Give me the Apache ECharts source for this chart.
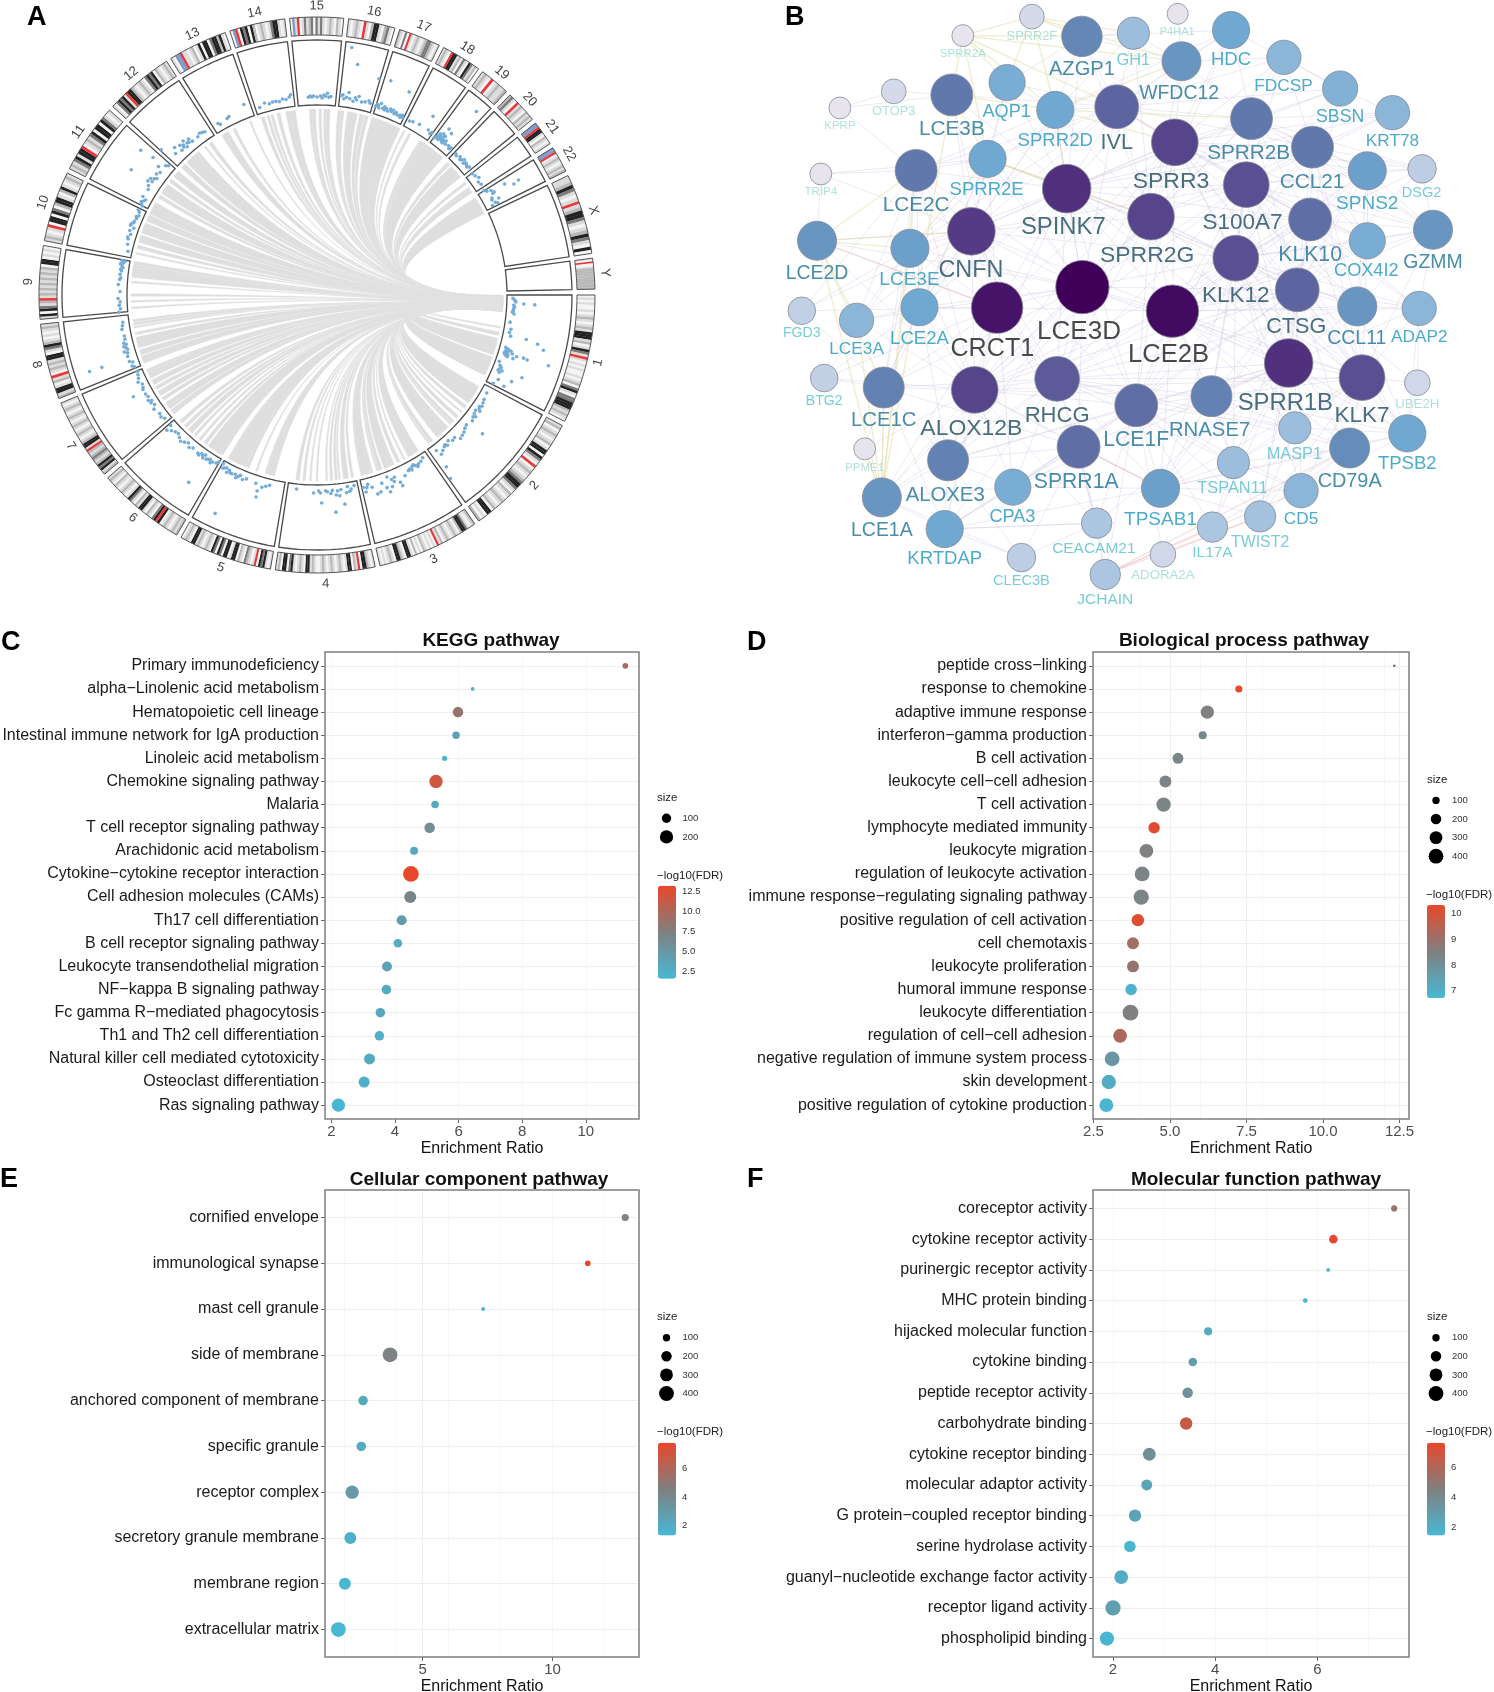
<!DOCTYPE html>
<html><head><meta charset="utf-8">
<style>html,body{margin:0;padding:0;background:#fff}#chart{width:1494px;height:1692px}</style>
<script src="https://cdn.jsdelivr.net/npm/echarts@6/dist/echarts.min.js"></script>
</head><body><div id="chart"></div>
<script>
/* ---------- Panel A: chromosomes ---------- */
const chromNames = ['1','2','3','4','5','6','7','8','9','10','11','12','13','14','15','16','17','18','19','20','21','22','X','Y'];
const chromLengths = [249,243,198,191,181,171,159,146,141,136,135,134,115,107,103,90,81,78,59,63,48,51,155,59];
const chromBands = [
 '0101001012101214441201431r10101001012034103344421210',
 '120121012014404310r01210123443102101210120440102',
 '2101344201210121021r0101012010201440124401210101',
 '1012440r120441012101210121001214401210143044021',
 '1014340r101230120441044034034012101214401210',
 '2121012104r430120144120134101210120121',
 '214342123212r14421012101210121012101',
 '21441021r01212144013421010121',
 '1404312r12121212121204401010',
 '12101r0440430244102410121',
 '12134144r012134044043101',
 '1034341r44210121034340210121',
 '10bbr1101201404403442410',
 '0br0434042012101344101',
 '0b1r0131230313101210210',
 '101210r10244102310',
 '21030r10121012332101',
 '1210r4412031043120',
 '1210r012112',
 '2310r12102121',
 'bbr44102101',
 'bbr012101212',
 '11243101r124431012431040',
 '10r0012222222222222'
];
const linkSources = [4.8,4.6,4.3,4.1,3.8,3.6,3.4,3.2,3,2.8,2.6,2.4,2.2,2,1.8,1.6,1.4,1.2,1,0.8,0.6,0.4];
const linkTargets = [
 [[10,1],[12,2],[14,2],[15,3],[16,3],[17,4],[18,3],[20,2],[21,3],[22,4],[23,4],[24,3],[25,2]],
 [[30,2],[31,2],[32,3],[33,3],[34,4],[35,2],[37,2],[39,1],[41,2],[43,2],[44,1],[46,3],[47,4],[48,5],[49,3],[52,2],[53,1]],
 [[58,4],[59,4],[60,2],[62,1],[64,2],[66,2],[67,3],[68,3],[70,2],[71,1],[73,2],[74,3],[75,3],[76,1]],
 [[79,1.5],[81,3],[83,1],[84,1.5],[85.5,1.5],[87,1],[90,1],[92,1],[94,1.5],[96,2]],
 [[104,3],[105,3],[106,1],[109,1],[112,2],[114,5],[115,5],[116,4],[117,2],[118,2]],
 [[121,2],[122,2],[123,6],[124,6],[125,3],[127,2],[129,1.5],[131,1.5],[133,3],[135,2],[137,2]],
 [[141,3],[143,3],[144,2],[146,2],[148,3],[150,2],[152,3],[154,2],[155,2],[156,1.5]],
 [[159,2],[160,3],[162,3],[164,2],[165,4],[166,3],[168,1.5],[170,1],[171,1.5],[172,1.5]],
 [[176,1],[178,1],[180,1.5],[184,1],[186,2],[187,2.5],[188,2],[189,1.5],[190,2]],
 [[193,1],[195,2],[197,2],[198,3],[200,2],[201,3],[202,3],[204,2],[205,2]],
 [[207,4],[208,4],[209,3],[212,2],[214,3],[215,3],[216,2],[218,2],[220,1.5],[221,3]],
 [[224,3],[226,2],[227,4],[228,4],[229,3],[230,2],[233,1],[235,2]],
 [[240,3],[241,2],[243.5,1.5],[249,1]],
 [[253,2],[254.7,1.5],[256,1.5],[258,2],[261,2.5],[262.5,3]],
 [[268,1.5],[269,2],[271,1.5],[272.5,1.5],[273.5,2]],
 [[277,2],[278,1.5],[280,2],[281,3],[282,2],[284,2.5],[285.5,2]],
 [[288,3],[289,3],[290,2.5],[291,3],[292,2],[293,2],[294,2.5],[295,3],[296,2]],
 [[298,1],[300,1.5],[304,1.5],[305,2]],
 [[307,5],[308,5],[309,6],[310,4],[311,3],[312,2]],
 [[315,2],[317,3],[318,3],[319,2.5],[320,2]],
 [[323,1.5],[325,1.5],[326,2]],
 [[329,2],[330,3],[331,4],[332,5],[333,4]]
];
const variantPoints = [
 [1,196],[1.5,198],[2,199],[2.5,207],[2.6,218],[3,197],[3.5,198],[4,197],[4.5,197],[5,196],[5.5,198],[8,195],[10,197],[11,196],[12,198],[12,214],[12.6,226],[13.7,233],[15.5,196],[15.8,199],[16,197],[16.2,202],[16.4,199],[16.6,197],[16.8,204],[17,199],[17.1,196],[17.2,209],[17.4,200],[17.5,197],[17.7,198],[18,200],[18,206],[17,216],[17.2,220],[17,242],[20,194],[21,196],[21.5,198],[22,197],[22.3,200],[22.5,196],[23,198],[24,213],[22,221],[25,200],[26.6,197],[26,208],
 [30,196],[32,197],[33,198],[34,199],[34.5,197],[35,198],[35.5,200],[36,196],[37,197],[37.5,200],[38,198],[39,200],[40,216],[41,198],[42,199],[43,201],[44,202],[45,203],[46,198],[47,199],[48,196],[49,199],[49.5,197],[50,198],[51,200],[52,202],[52.5,196],[53,215],[54,227],
 [57,194],[58,196],[59,197],[59.5,199],[60,197],[60.5,195],[61,196],[61.5,199],[62,197],[62.5,198],[64,201],[65.8,209],[66,205],[67,198],[67.5,202],[68,199],[68.5,206],[69,195],[69.5,210],[70,205],[71,199],[72,207],[73,208],[74,200],[75,196],[75.5,199],[76,203],[76.5,198],
 [79,194],[80,197],[81,194],[81.5,200],[82.4,211],[83,196],[84,197],[84.5,201],[85,218],[85.5,196],[86,199],[87,197],[87.5,196],[88.7,208],[89,198],[89.5,196],[91,198],[96,195],[80.5,199],[83.5,202],
 [104,196],[105,198],[106,200],[106.8,211],[107,205],[108,198],[111,197],[112,199],[113,196],[113.5,198],[114,200],[114.5,197],[115,241],[115.5,198],[116,198],[116.5,196],[117,199],[117.5,195],[118,196],[118.5,197],[119,193],
 [120.5,194],[121,196],[122,197],[122.5,199],[123,196],[123.5,197],[124,198],[124.4,227],[124.8,195],[125,199],[125.5,197],[126,196],[126.5,199],[127,198],[129,197],[130,199],[131,196],[132,198],[133,200],[134,198],[135,196],[136,197],[137,199],[138,202],[138.3,196],
 [141,196],[142,198],[143,197],[145,199],[146,196],[147,198],[147.5,196],[148,199],[149,197],[150,198],[151,210],[151.5,198],[152,197],[153,196],[154,199],[155,197],[156,196],[157,195],
 [158.5,196],[159,198],[160,196],[160.5,199],[161.4,240],[161.4,227],[162,199],[163,198],[163.5,201],[164,197],[164.5,198],[165,200],[165.5,197],[166,199],[167,197],[168,197],[170,198],[171,197],[172,196],
 [175,199],[176,197],[177,198],[178,197],[179,199],[181,197],[183,199],[184.5,198],[185,197],[186,198],[187,197],[187.5,198],[188,196],[188.5,197],[189,199],[189.5,196],[190,198],[190,195],
 [193,194],[195,196],[196.5,197],[197,198],[198,196],[199,198],[200,195],[200.5,199],[201,199],[201.5,197],[202,197],[203,196],[203.5,197],[204,195],[205,196],[205.5,198],
 [207,196],[207.5,198],[208,199],[208.5,197],[209,196],[209.5,200],[212,199],[213,201],[214,204],[214,224],[214.5,200],[215,203],[215.5,200],[216,198],[218,199],[219.4,228],[220,214],[220.5,199],[221,197],[219,204],[217,201],
 [223,213],[225,200],[226,205],[227,198],[227.5,203],[228,199],[228.3,201],[228.8,197],[229,204],[229.5,200],[230,199],[230.5,202],[231,198],[233,198],[234,200],[234.8,199],[235.5,198],
 [240,198],[240.5,196],[243,198],[243.7,199],[249,204],
 [253,196],[254.7,199],[256,197],[257,198],[258,198],[259,197],[260,199],[261,198],[262,200],[262.5,202],
 [267.5,198],[268,199],[268.5,198],[269,199],[270,198],[271,199],[271.5,197],[272,200],[272.5,199],[273,202],[273.5,198],[274,199],
 [277,201],[277.4,202],[277.8,198],[278,250],[278.5,200],[279,205],[279.5,199],[280,234],[280.5,197],[281,201],[281.5,199],[282,203],[283,198],[284,199],[285,201],[285.5,199],
 [287.3,198],[287.6,200],[288,199],[288.3,197],[288.6,202],[289,226.6],[289.4,198],[289.8,200],[290,197],[290.5,199],[291,197],[291.6,200],[292,198],[292.5,200],[293,197],[293.5,199],[294,197],[294.4,223],[294.8,198],[295,196],[295.4,199],[295.8,197],[286,225],
 [298,197],[299,198],[301,199],[303,213],[304,199],[305,197],[305.3,199],
 [306.7,196],[307,198],[307.2,200],[307.4,203],[307.6,199],[307.8,197],[308,201],[308.2,205],[308.4,199],[308.6,202],[308.8,198],[309,204],[309.2,200],[309.4,197],[309.6,199],[310,201],[310.4,198],[311,243],[311.4,199],[312,197],[312.4,199],[309.8,210],[308.5,212],
 [314.5,198],[315,197],[316,199],[316.5,197],[317,198],[317.5,200],[318,197],[318.5,199],[319,198],[319.5,197],[320,199],
 [322,197],[323,198],[324,200],[325,197],[326,198],
 [328,197],[328.6,199],[329,203],[329.4,218],[329.8,205],[330,203],[330.3,232],[330.6,226],[331,200],[331.5,199],[331.9,206],[332.5,201],[333,197],[333,203]
];

/* ---------- Panel B: network ---------- */
const nodeNames = ['SPRR2F','SPRR2A','P4HA1','AZGP1','GH1','HDC','WFDC12','FDCSP','AQP1','OTOP3','KPRP','LCE3B','SPRR2D','IVL','SBSN','KRT78','SPRR2B','SPRR3','CCL21','SPNS2','DSG2','TRIP4','SPRR2E','LCE2C','SPINK7','S100A7','KLK10','SPRR2G','CNFN','COX4I2','GZMM','LCE2D','LCE3E','KLK12','LCE3D','LCE2B','CRCT1','CTSG','CCL11','ADAP2','LCE2A','LCE3A','FGD3','SPRR1B','KLK7','BTG2','LCE1C','ALOX12B','RHCG','LCE1F','RNASE7','UBE2H','MASP1','TPSB2','CD79A','ALOXE3','SPRR1A','PPME1','TSPAN11','TPSAB1','CPA3','CD5','LCE1A','TWIST2','IL17A','CEACAM21','KRTDAP','CLEC3B','ADORA2A','JCHAIN'];
const nodeX = [598,453,904,703,811,1016,912,1127,546,308,195,430,647,776,1245,1355,1059,898,1187,1302,1417,155,505,355,671,1048,1182,848,471,1302,1440,147,342,1026,704,893,525,1155,1281,1411,362,230,115,1137,1291,162,287,478,651,817,975,1407,1150,1386,1265,422,696,247,1021,868,558,1163,283,1077,977,734,415,576,873,752];
const nodeY = [42,90,35,92,84,76,155,145,209,231,273,240,278,270,224,285,300,360,372,432,427,440,402,431,477,467,555,548,585,609,581,609,628,653,726,787,778,733,775,780,777,810,786,918,955,956,980,986,958,1025,1002,968,1082,1096,1133,1164,1130,1135,1170,1235,1232,1241,1258,1306,1333,1323,1338,1410,1402,1453];
const nodeDegree = [52,46,44,85,68,78,82,72,76,52,46,88,78,92,74,72,88,98,88,80,60,46,78,88,102,96,90,98,100,76,82,82,80,96,112,110,108,92,82,72,78,72,58,102,96,58,86,98,94,90,86,54,68,78,84,86,90,46,68,80,76,72,82,66,64,64,78,60,54,64];
const labelX = [598,453,903,703,811,1016,907,1126,545,308,195,430,647,776,1245,1355,1053,890,1186,1302,1416,155,503,355,664,1040,1182,840,470,1300,1440,147,341,1026,697,885,515,1153,1280,1411,362,230,115,1130,1291,162,287,471,651,817,971,1407,1149,1386,1265,416,691,247,1019,868,557,1163,283,1077,977,728,415,576,873,752];
const labelY = [93,137,80,175,152,152,238,218,283,282,318,327,356,362,295,356,388,460,460,515,487,484,479,520,576,563,645,647,685,686,663,691,708,748,839,898,884,826,857,852,856,884,843,1020,1052,1014,1064,1084,1052,1112,1088,1023,1150,1172,1218,1252,1220,1183,1236,1314,1307,1313,1341,1372,1398,1389,1414,1470,1454,1517];
const purpleEdges = {
 LCE3D:'LCE2B CRCT1 CNFN SPRR2G SPINK7 KLK12 SPRR3 S100A7 CTSG KLK7 SPRR1B ALOX12B RHCG LCE1F LCE2A LCE3E LCE2C LCE3B IVL SPRR2D SPRR2E SPRR2B LCE1C LCE1A LCE2D LCE3A ALOXE3 SPRR1A',
 LCE2B:'CRCT1 CNFN SPRR2G SPINK7 KLK12 SPRR3 S100A7 CTSG KLK7 SPRR1B ALOX12B RHCG KLK10 CCL21 CCL11 RNASE7 LCE1F GZMM SPNS2 TPSB2 CD79A TPSAB1 TSPAN11 MASP1 ADAP2 COX4I2',
 CRCT1:'CNFN SPINK7 SPRR3 LCE2A LCE3E LCE2D LCE1C LCE1A ALOX12B ALOXE3 RHCG SPRR1A SPRR2E LCE2C LCE3B FGD3 BTG2 KRTDAP CPA3',
 SPINK7:'SPRR3 SPRR2G S100A7 KLK10 KLK12 CTSG IVL WFDC12 AZGP1 AQP1 SPRR2D SPRR2B CCL21 SBSN KRT78 KLK7 SPRR1B RHCG ALOX12B LCE2C LCE3B LCE3E LCE2A SPRR2E LCE1F CCL11',
 SPRR3:'SPRR2B S100A7 IVL WFDC12 FDCSP HDC CCL21 KLK10 SPNS2 KRT78 SPRR2G KLK12 DSG2 CTSG KLK7 SPRR1B RHCG ALOX12B CCL11 LCE1F GZMM COX4I2',
 S100A7:'KLK10 KLK12 CTSG CCL21 SPNS2 COX4I2 GZMM SBSN CCL11 SPRR1B KLK7 ADAP2 RHCG ALOX12B LCE1F RNASE7 TPSB2 KRT78 DSG2 FDCSP',
 KLK12:'KLK10 CTSG CCL11 KLK7 SPRR1B GZMM COX4I2 ADAP2 RNASE7 MASP1 TPSB2 CD79A LCE1F SPRR2B CCL21 SPNS2 DSG2 TSPAN11 TPSAB1 CD5',
 CTSG:'KLK10 KLK7 SPRR1B CCL11 CCL21 TPSB2 TPSAB1 CPA3 CD79A ADAP2 UBE2H GZMM RNASE7 MASP1 CD5 SPRR2B COX4I2 SPNS2 SBSN KRT78 DSG2 TSPAN11 TWIST2 LCE1F',
 KLK7:'SPRR1B ADAP2 CCL11 TPSB2 CD79A MASP1 UBE2H RNASE7 TSPAN11 TWIST2 CCL21 KLK10 COX4I2 GZMM TPSAB1 CD5',
 SPRR1B:'RNASE7 LCE1F RHCG CD79A TSPAN11 TPSAB1 SPRR1A MASP1 TWIST2 KLK10 CCL11 ADAP2 TPSB2 CPA3 ALOXE3 CEACAM21 IL17A',
 ALOX12B:'RHCG ALOXE3 SPRR1A LCE1C LCE1A LCE1F CPA3 KRTDAP LCE3A BTG2 PPME1 KLK12 CTSG KLK7 LCE2A LCE3E LCE2C LCE2D TPSAB1 RNASE7 CEACAM21',
 RHCG:'LCE1F SPRR1A RNASE7 ALOXE3 TPSAB1 CPA3 CEACAM21 KLK12 CTSG KLK7 CCL11 MASP1 TSPAN11 CD79A LCE1C LCE1A KRTDAP',
 LCE1F:'SPRR1A RNASE7 TPSAB1 CEACAM21 TSPAN11 JCHAIN KLK10 MASP1 CD5 TWIST2 CPA3 ALOXE3 KRTDAP IL17A ADORA2A',
 CNFN:'LCE2C LCE2D LCE3E LCE2A LCE3B SPRR2E SPRR2D AQP1 TRIP4 LCE3A FGD3 SPINK7 SPRR3 SPRR2G ALOX12B LCE1C RHCG S100A7 KLK12 SPRR1A IVL LCE1F',
 SPRR2G:'SPRR2B SPRR2D SPRR2E IVL CCL21 KLK10 AZGP1 GH1 S100A7 KLK12 CTSG RHCG ALOX12B SPRR1B WFDC12 FDCSP HDC LCE1F KLK7 ALOXE3',
 CCL21:'CCL11 SPNS2 KLK10 COX4I2 SBSN FDCSP GZMM DSG2 KRT78',
 CCL11:'GZMM COX4I2 ADAP2 TPSB2 SPNS2',
 KLK10:'SPNS2 COX4I2 GZMM ADAP2',
 IVL:'SPRR2D SPRR2B WFDC12 AZGP1 GH1 AQP1 LCE3B LCE3E LCE2C SPRR2E CCL21 FDCSP HDC SBSN KLK10',
 SPRR2B:'WFDC12 FDCSP HDC SBSN KRT78 CCL21 SPNS2 KLK10 DSG2 COX4I2 GZMM',
 WFDC12:'AZGP1 HDC FDCSP GH1 P4HA1',
 AZGP1:'AQP1 HDC GH1 SPRR2D',
 TPSAB1:'TPSB2 CPA3 CD5 CD79A KRTDAP TWIST2',
 RNASE7:'TPSB2 CD79A TSPAN11 TPSAB1',
 ALOXE3:'LCE1A KRTDAP CPA3 SPRR1A CLEC3B',
 LCE1A:'KRTDAP LCE1C CPA3 CLEC3B',
 CD79A:'CD5 TPSB2 TWIST2 IL17A TSPAN11',
 MASP1:'TSPAN11 TWIST2',
 SPNS2:'DSG2 GZMM KRT78 COX4I2',
 SBSN:'KRT78 FDCSP HDC',
 OTOP3:'LCE3B KPRP',
 KPRP:'LCE3B LCE2C',
 TRIP4:'LCE2C LCE2D',
 UBE2H:'ADAP2 TPSB2',
 PPME1:'LCE1A LCE1C',
 CEACAM21:'JCHAIN CLEC3B KRTDAP',
 SPRR2D:'LCE3E LCE2C LCE2A AQP1 GH1 HDC',
 SPRR2E:'LCE2C LCE2A LCE1C AQP1 TRIP4',
 LCE2C:'LCE3E LCE2A LCE3A FGD3 LCE1C',
 LCE3E:'LCE2A LCE3A LCE1C BTG2 FGD3',
 LCE2A:'LCE3A LCE1C BTG2 ALOXE3',
 LCE1C:'ALOXE3 SPRR1A KRTDAP BTG2 FGD3',
 SPRR1A:'CPA3 KRTDAP TPSAB1 CEACAM21 CLEC3B JCHAIN',
 TSPAN11:'TPSAB1 CD5 TWIST2 IL17A',
 TPSB2:'MASP1 ADAP2 CD5',
 GZMM:'COX4I2 ADAP2 DSG2',
 KRTDAP:'CPA3 CLEC3B CEACAM21'
};
const yellowEdges = {
 SPRR2A:'SPRR2F AQP1 SPRR2D LCE3B AZGP1 SPRR2E IVL WFDC12',
 SPRR2F:'AZGP1 AQP1 SPRR2D WFDC12 GH1',
 LCE2D:'LCE1A LCE1C LCE3A LCE3E CNFN LCE2C',
 LCE1A:'LCE1C LCE3A PPME1 LCE3E LCE2C LCE3B',
 LCE3B:'SPRR2E SPRR2D',
 SPRR2D:'SPRR3 SPINK7 WFDC12 SPRR2B',
 SPRR2E:'SPINK7 SPRR2G LCE3E'
};
const pinkEdges = {
 JCHAIN:'CD5 TWIST2 CD79A IL17A',
 LCE2D:'CRCT1',
 TPSAB1:'SPRR1A',
 IVL:'SPRR3',
 ADORA2A:'TWIST2'
};

/* ---------- Panels C-F ---------- */
const keggTerms = ['Primary immunodeficiency','alpha\u2212Linolenic acid metabolism','Hematopoietic cell lineage','Intestinal immune network for IgA production','Linoleic acid metabolism','Chemokine signaling pathway','Malaria','T cell receptor signaling pathway','Arachidonic acid metabolism','Cytokine\u2212cytokine receptor interaction','Cell adhesion molecules (CAMs)','Th17 cell differentiation','B cell receptor signaling pathway','Leukocyte transendothelial migration','NF\u2212kappa B signaling pathway','Fc gamma R\u2212mediated phagocytosis','Th1 and Th2 cell differentiation','Natural killer cell mediated cytotoxicity','Osteoclast differentiation','Ras signaling pathway'];
const keggRatio = [11.24,6.44,5.98,5.92,5.56,5.29,5.26,5.09,4.60,4.50,4.48,4.21,4.09,3.75,3.73,3.54,3.51,3.20,3.03,2.22];
const keggSize = [37,16,125,65,31,200,65,125,72,279,163,113,84,113,102,102,102,137,137,200];
const keggFdr = [10,2,8.7,3.8,2,11.7,3.2,5.9,3.1,13.2,6.8,4.3,2.9,3.7,3,3.2,2.6,2.8,2.4,1.6];

const bpTerms = ['peptide cross\u2212linking','response to chemokine','adaptive immune response','interferon\u2212gamma production','B cell activation','leukocyte cell\u2212cell adhesion','T cell activation','lymphocyte mediated immunity','leukocyte migration','regulation of leukocyte activation','immune response\u2212regulating signaling pathway','positive regulation of cell activation','cell chemotaxis','leukocyte proliferation','humoral immune response','leukocyte differentiation','regulation of cell\u2212cell adhesion','negative regulation of immune system process','skin development','positive regulation of cytokine production'];
const bpRatio = [12.33,7.25,6.22,6.07,5.26,4.85,4.79,4.48,4.23,4.09,4.06,3.95,3.79,3.79,3.73,3.71,3.37,3.11,3.0,2.92];
const bpSize = [16,93,325,120,219,259,373,239,349,398,425,280,259,259,239,452,349,398,373,349];
const bpFdr = [8.5,10.3,8.5,8.3,8.3,8.4,8.4,10.2,8.5,8.4,8.4,10.2,9.1,8.9,6.9,8.5,9.3,7.8,7.1,6.8];

const ccTerms = ['cornified envelope','immunological synapse','mast cell granule','side of membrane','anchored component of membrane','specific granule','receptor complex','secretory granule membrane','membrane region','extracellular matrix'];
const ccRatio = [12.8,11.36,7.33,3.75,2.71,2.64,2.29,2.22,2.01,1.76];
const ccSize = [93,60,27,398,166,166,325,259,259,398];
const ccFdr = [4.5,7.8,1.6,4.4,2.2,2.0,3.1,1.8,1.4,1.35];

const mfTerms = ['coreceptor activity','cytokine receptor activity','purinergic receptor activity','MHC protein binding','hijacked molecular function','cytokine binding','peptide receptor activity','carbohydrate binding','cytokine receptor binding','molecular adaptor activity','G protein\u2212coupled receptor binding','serine hydrolase activity','guanyl\u2212nucleotide exchange factor activity','receptor ligand activity','phospholipid binding'];
const mfRatio = [7.50,6.31,6.21,5.76,3.86,3.56,3.46,3.43,2.71,2.66,2.43,2.33,2.16,2.0,1.88];
const mfSize = [70,134,27,41,120,134,200,280,302,219,280,239,349,425,373];
const mfFdr = [5.2,7.5,1.6,1.6,2.2,3.0,3.6,6.6,3.7,2.5,2.6,1.6,2.1,2.8,1.6];

/* ---------- Rendering ---------- */
const FONT = '"Liberation Sans", Arial, sans-serif';
const bandColors = {'0':'#f4f4f4','1':'#dcdcdc','2':'#b8b8b8','3':'#7a7a7a','4':'#222222',r:'#e8363a',b:'#7c97c6'};
const DEG_PER_MB = 336/3095;
const chromSpans = []; { let a=0; chromLengths.forEach(l=>{const s=l*DEG_PER_MB; chromSpans.push([a,a+s]); a+=s+1;}); }

const bandRows=[]; chromBands.forEach((str,i)=>{
  const [s,e]=chromSpans[i], w=(e-s)/str.length;
  [...str].forEach((ch,j)=>{ const isThin=ch==='r'||ch==='b'; const mid=s+w*(j+.5);
    const hw=isThin?Math.min(w/2,0.3):w/2+0.02;
    bandRows.push({value:[260,mid-hw,mid+hw],c:bandColors[ch],thin:isThin});});
});
bandRows.sort((a,b)=>(a.thin?1:0)-(b.thin?1:0));

function ring(api,r0,r1,a0,a1){
  const pts=[], n=Math.max(2,Math.ceil((a1-a0)/1.5));
  for(let i=0;i<=n;i++) pts.push(api.coord([r1,a0+(a1-a0)*i/n]));
  for(let i=n;i>=0;i--) pts.push(api.coord([r0,a0+(a1-a0)*i/n]));
  return pts;
}
const linkRows=[]; linkTargets.forEach((g,i)=>g.forEach(t=>linkRows.push([186,t[0],linkSources[i],t[1]])));

const grids=[],xAxes=[],yAxes=[],series=[],visualMaps=[],graphics=[];
function addText(t,x,y,o){graphics.push({type:'text',x,y,silent:true,z:50,style:Object.assign({text:t,textAlign:'left',textVerticalAlign:'middle',fontFamily:FONT,fill:'#111',fontSize:12},o||{})});}

/* Panel A series */
function qCurve(S,C,T,out,rev){const N=22;for(let i=0;i<=N;i++){const u=rev?1-i/N:i/N,v=1-u;
  out.push([v*v*S[0]+2*u*v*C[0]+u*u*T[0],v*v*S[1]+2*u*v*C[1]+u*u*T[1]]);}}
series.push({type:'custom',coordinateSystem:'polar',silent:true,clip:false,z:1,data:linkRows,
  renderItem(p,api){const tg=api.value(1),sr=api.value(2),w=api.value(3),C=api.coord([0,0]);
    const tw=w*0.28,sw=w*0.07,pts=[];
    qCurve(api.coord([186,sr-sw]),C,api.coord([186,tg+tw]),pts,false);
    qCurve(api.coord([186,sr+sw]),C,api.coord([186,tg-tw]),pts,true);
    return {type:'polygon',shape:{points:pts},style:{fill:'#dedede',stroke:'#e2e2e2',lineWidth:0.4}};}});
series.push({type:'custom',coordinateSystem:'polar',silent:true,clip:false,z:2,data:chromSpans.map(s=>[190,s[0],s[1]]),
  renderItem(p,api){return {type:'polygon',shape:{points:ring(api,190,255,api.value(1),api.value(2))},style:{fill:'none',stroke:'#4a4a4a',lineWidth:1.3}};}});
series.push({type:'scatter',coordinateSystem:'polar',silent:true,z:3,symbolSize:3.6,itemStyle:{color:'#74acd8',opacity:1},data:variantPoints.map(p=>[p[1],p[0]])});
series.push({type:'custom',coordinateSystem:'polar',silent:true,clip:false,z:2,data:bandRows,
  renderItem(p,api){const d=bandRows[p.dataIndex];return {type:'polygon',shape:{points:ring(api,260,278,api.value(1),api.value(2))},style:{fill:d.c,stroke:null}};}});
series.push({type:'custom',coordinateSystem:'polar',silent:true,clip:false,z:3,data:chromSpans.map(s=>[260,s[0],s[1]]),
  renderItem(p,api){return {type:'polygon',shape:{points:ring(api,260,278,api.value(1),api.value(2))},style:{fill:'none',stroke:'#555',lineWidth:1}};}});
series.push({type:'custom',coordinateSystem:'polar',silent:true,clip:false,z:3,data:chromSpans.map(s=>[289,(s[0]+s[1])/2]),
  renderItem(p,api){const a=api.value(1),c=api.coord([289,a]);
    const rot=(a>=180?-(a-270):-(a-90))*Math.PI/180;
    return {type:'text',x:c[0],y:c[1],rotation:rot,style:{text:chromNames[p.dataIndex],textAlign:'center',textVerticalAlign:'middle',fontFamily:FONT,fontSize:13,fill:'#444'}};}});

/* Panel B */
function lerpColor(w){
  const st=[[46,[232,228,238]],[60,[188,205,228]],[72,[140,182,216]],[78,[111,168,208]],[85,[100,135,182]],[92,[94,100,160]],[100,[85,58,133]],[112,[62,0,89]]];
  for(let i=1;i<st.length;i++){ if(w<=st[i][0]){const t=Math.max(0,(w-st[i-1][0])/(st[i][0]-st[i-1][0]));
    const c=st[i-1][1].map((v,k)=>Math.round(v+(st[i][1][k]-v)*t)); return `rgb(${c.join(',')})`;}}
  return 'rgb(62,0,89)';
}
function labelColor(w){ if(w<=56)return '#9ad9d2'; if(w<=68)return '#55bfcc'; if(w<=80)return '#2096bd'; if(w<=90)return '#1b7094'; if(w<=103)return '#1b4a5e'; return '#1a1a1a'; }
const netLinks=[];
[[purpleEdges,'#c4b6da',0.3,1],[yellowEdges,'#dfdca0',0.5,1.3],[pinkEdges,'#e6a9b0',0.4,1.1]].forEach(([src,col,op,wd])=>{
  Object.keys(src).forEach(a=>src[a].split(' ').forEach(b=>netLinks.push({source:a,target:b,lineStyle:{color:col,opacity:op,width:wd,curveness:0}})));
});
grids.push({left:747,top:0,width:747,height:620,show:false});
xAxes.push({gridIndex:0,type:'value',min:0,max:1568,show:false});
yAxes.push({gridIndex:0,type:'value',min:0,max:1568,inverse:true,show:false});
series.push({type:'graph',coordinateSystem:'cartesian2d',xAxisIndex:0,yAxisIndex:0,silent:true,z:2,
  data:nodeNames.map((n,i)=>({name:n,value:[nodeX[i],nodeY[i]],symbolSize:nodeDegree[i]/2.099,itemStyle:{color:lerpColor(nodeDegree[i]),borderColor:'#858a96',borderWidth:0.8,opacity:1}})),
  links:netLinks,label:{show:false},edgeSymbol:['none','none'],animation:false});
series.push({type:'scatter',xAxisIndex:0,yAxisIndex:0,silent:true,z:4,symbolSize:0,
  data:nodeNames.map((n,i)=>({value:[labelX[i],labelY[i]],name:n,label:{show:true,position:'inside',formatter:n,fontFamily:FONT,fontSize:0.22*nodeDegree[i]+1.4,color:labelColor(nodeDegree[i])}}))});

/* Panels C-F */
const panels=[
 {terms:keggTerms,ratio:keggRatio,size:keggSize,fdr:keggFdr,title:'KEGG pathway',k:0.94,fs:16,
  L:325,R:639,T:652,B:1119,min:1.8,max:11.67,ticks:[2,4,6,8,10],minor:[3,5,7,9,11],dec:0,titleX:491,titleY:641,
  legendSizes:[100,200],dotX:666.5,sizeTitleX:657,sizeTitleY:798,sizeRowY:818.3,
  fdrTitleY:875.5,barL:658,barT:885.8,barB:978.8,fmin:1.5,fmax:13.24,fticks:[2.5,5,7.5,10,12.5],fdec:1},
 {terms:bpTerms,ratio:bpRatio,size:bpSize,fdr:bpFdr,title:'Biological process pathway',k:0.74,fs:16,
  L:1093,R:1409,T:652,B:1119,min:2.484,max:12.81,ticks:[2.5,5,7.5,10,12.5],minor:[3.75,6.25,8.75,11.25],dec:1,titleX:1244,titleY:641,
  legendSizes:[100,200,300,400],dotX:1436,sizeTitleX:1427,sizeTitleY:780,sizeRowY:800.4,
  fdrTitleY:894.4,barL:1427,barT:905,barB:998,fmin:6.72,fmax:10.32,fticks:[7,8,9,10],fdec:0},
 {terms:ccTerms,ratio:ccRatio,size:ccSize,fdr:ccFdr,title:'Cellular component pathway',k:0.74,fs:16,
  L:325,R:639,T:1190,B:1657,min:1.245,max:13.33,ticks:[5,10],minor:[2.5,7.5,12.5],dec:0,titleX:479,titleY:1180,
  legendSizes:[100,200,300,400],dotX:666.5,sizeTitleX:657,sizeTitleY:1317.3,sizeRowY:1337.7,
  fdrTitleY:1431.7,barL:658,barT:1442.8,barB:1535.4,fmin:1.29,fmax:7.83,fticks:[2,4,6],fdec:0},
 {terms:mfTerms,ratio:mfRatio,size:mfSize,fdr:mfFdr,title:'Molecular function pathway',k:0.74,fs:16,
  L:1093,R:1409,T:1190,B:1657,min:1.608,max:7.79,ticks:[2,4,6],minor:[3,5,7],dec:0,titleX:1256,titleY:1180,
  legendSizes:[100,200,300,400],dotX:1436,sizeTitleX:1427,sizeTitleY:1317.3,sizeRowY:1337.7,
  fdrTitleY:1431.7,barL:1427,barT:1442.8,barB:1535.4,fmin:1.45,fmax:7.6,fticks:[2,4,6],fdec:0}
];
const RAMP=['#47b8d5','#808080','#e8482b'];
panels.forEach(P=>{
  const H=P.B-P.T,n=P.terms.length,step=H/(n-1+1.2),inset=0.1*step;
  const g0=grids.length;
  grids.push({left:P.L,top:P.T,width:P.R-P.L,height:H,show:true,borderColor:'#808080',borderWidth:1.5,backgroundColor:'transparent',z:1});
  xAxes.push({gridIndex:g0,type:'value',min:P.min,max:P.max,position:'bottom',
    axisLine:{show:false},axisTick:{show:true,length:4,lineStyle:{color:'#666'},customValues:P.ticks},
    axisLabel:{customValues:P.ticks,margin:5,color:'#4d4d4d',fontSize:15,fontFamily:FONT,formatter:v=>v.toFixed(P.dec)},
    splitLine:{show:true,customValues:P.ticks,lineStyle:{color:'#efefef',width:1}},
    name:'Enrichment Ratio',nameLocation:'middle',nameGap:22,nameTextStyle:{fontFamily:FONT,fontSize:16,color:'#111',verticalAlign:'top'}});
  xAxes.push({gridIndex:g0,type:'value',min:P.min,max:P.max,position:'top',
    axisLine:{show:false},axisTick:{show:false},axisLabel:{show:false},
    splitLine:{show:true,customValues:P.minor,lineStyle:{color:'#f7f7f7',width:1}}});
  yAxes.push({gridIndex:g0,type:'value',min:0,max:1,show:false});
  const g1=grids.length;
  grids.push({left:P.L,top:P.T+inset,width:P.R-P.L,height:H-2*inset,show:false});
  const xi=xAxes.length;
  xAxes.push({gridIndex:g1,type:'value',min:P.min,max:P.max,show:false});
  const yi=yAxes.length;
  yAxes.push({gridIndex:g1,type:'category',inverse:true,data:P.terms,
    axisLine:{show:false},axisTick:{show:true,alignWithLabel:true,length:4,lineStyle:{color:'#666'}},
    axisLabel:{margin:6,color:'#1a1a1a',fontSize:P.fs,fontFamily:FONT,interval:0,padding:[7,0,0,0]},
    splitLine:{show:true,alignWithLabel:true,lineStyle:{color:'#efefef',width:1}}});
  const si=series.length;
  series.push({type:'scatter',xAxisIndex:xi,yAxisIndex:yi,silent:true,z:5,
    data:P.ratio.map((v,i)=>[v,P.terms[i],P.size[i],P.fdr[i]]),
    symbolSize:d=>P.k*Math.sqrt(d[2]),itemStyle:{opacity:1}});
  visualMaps.push({type:'continuous',seriesIndex:si,dimension:3,min:P.fmin,max:P.fmax,show:true,calculable:false,
    left:P.barL,top:P.barT,itemWidth:18,itemHeight:P.barB-P.barT,padding:0,text:null,hoverLink:false,
    inRange:{color:RAMP},orient:'vertical',textStyle:{color:'transparent'},formatter:()=>''});
  const g2=grids.length;
  grids.push({left:P.barL,top:P.barT,width:18,height:P.barB-P.barT,show:false,z:8});
  xAxes.push({gridIndex:g2,type:'value',min:0,max:1,show:false});
  yAxes.push({gridIndex:g2,type:'value',min:P.fmin,max:P.fmax,position:'right',z:20,
    axisLine:{show:false},splitLine:{show:false},
    axisTick:{show:true,inside:true,length:4,lineStyle:{color:'#fff',width:1},customValues:P.fticks},
    axisLabel:{margin:6,fontSize:9.5,color:'#333',fontFamily:FONT,customValues:P.fticks,formatter:v=>v.toFixed(P.fdec)}});
  addText('\u2212log10(FDR)',P.barL-1,P.fdrTitleY,{fontSize:11.5,fill:'#222'});
  const g3=grids.length,rowH=18.6,m=P.legendSizes.length;
  grids.push({left:P.dotX-8,top:P.sizeRowY-rowH/2,width:16,height:rowH*m,show:false});
  const xi3=xAxes.length;
  xAxes.push({gridIndex:g3,type:'value',min:-1,max:1,show:false});
  const yi3=yAxes.length;
  yAxes.push({gridIndex:g3,type:'category',inverse:true,position:'right',data:P.legendSizes.map(String),
    axisLine:{show:false},axisTick:{show:false},splitLine:{show:false},
    axisLabel:{margin:8,fontSize:9.5,color:'#333',fontFamily:FONT,interval:0}});
  series.push({type:'scatter',xAxisIndex:xi3,yAxisIndex:yi3,silent:true,z:5,itemStyle:{color:'#000',opacity:1},
    data:P.legendSizes.map(s=>[0,String(s),s]),symbolSize:d=>P.k*Math.sqrt(d[2])});
  addText('size',P.sizeTitleX,P.sizeTitleY,{fontSize:11.5,fill:'#222'});
  addText(P.title,P.titleX,P.titleY,{textAlign:'center',fontSize:19,fontWeight:'bold',fill:'#111'});
});
grids.forEach(g=>{g.outerBoundsMode='none';g.containLabel=false;});

[['A',27,18],['B',785,18],['C',1,643],['D',747,643],['E',0,1180],['F',747,1180]].forEach(l=>addText(l[0],l[1],l[2],{fontSize:27,fontWeight:'bold',fill:'#000'}));

const chart=echarts.init(document.getElementById('chart'),null,{renderer:'canvas'});
chart.setOption({
  animation:false,backgroundColor:'#fff',textStyle:{fontFamily:FONT},
  polar:{center:[317,295],radius:278},
  angleAxis:{type:'value',min:0,max:360,startAngle:0,clockwise:true,show:false},
  radiusAxis:{type:'value',min:0,max:278,show:false},
  grid:grids,xAxis:xAxes,yAxis:yAxes,series,visualMap:visualMaps,graphic:{elements:graphics},tooltip:{show:false}
});
</script></body></html>
